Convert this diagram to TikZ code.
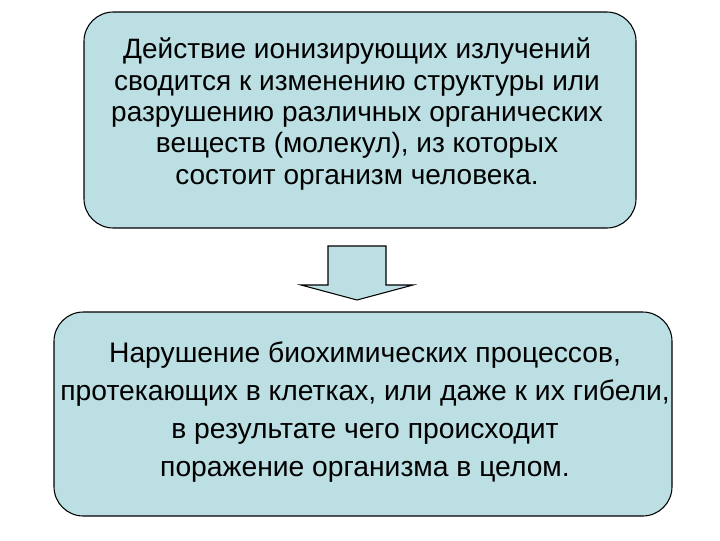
\documentclass[tikz,border=0pt]{standalone}
\usepackage{fontspec}
\setmainfont{Liberation Sans}
\definecolor{boxfill}{RGB}{187,223,227}
\begin{document}
\begin{tikzpicture}[x=0.75pt,y=-0.75pt,
  box/.style={draw=black,line width=0.8pt,fill=boxfill,rounded corners=22pt,inner sep=0pt},
  txt/.style={align=center,text=black,inner sep=0pt}]
\useasboundingbox (0,0) rectangle (720,540);
\node[box,minimum width=552*0.75pt,minimum height=216*0.75pt] (top) at (360,120) {};
\node[txt,font=\fontsize{21}{23.6}\selectfont] (toptext) at (357,114)
  {Действие ионизирующих излучений\\сводится к изменению структуры или\\разрушению различных органических\\веществ (молекул), из которых\\состоит организм человека.};
\node[box,minimum width=618*0.75pt,minimum height=204*0.75pt] (bot) at (363,414) {};
\node[txt,font=\fontsize{21.2}{28.5}\selectfont] (bottext) at (365,412)
  {Нарушение биохимических процессов,\\протекающих в клетках, или даже к их гибели,\\в результате чего происходит\\поражение организма в целом.};
\draw[line width=0.8pt,fill=boxfill] (328,246) -- (386,246) -- (386,285) -- (413,285) -- (357,300) -- (301,285) -- (328,285) -- cycle;
\end{tikzpicture}
\end{document}
